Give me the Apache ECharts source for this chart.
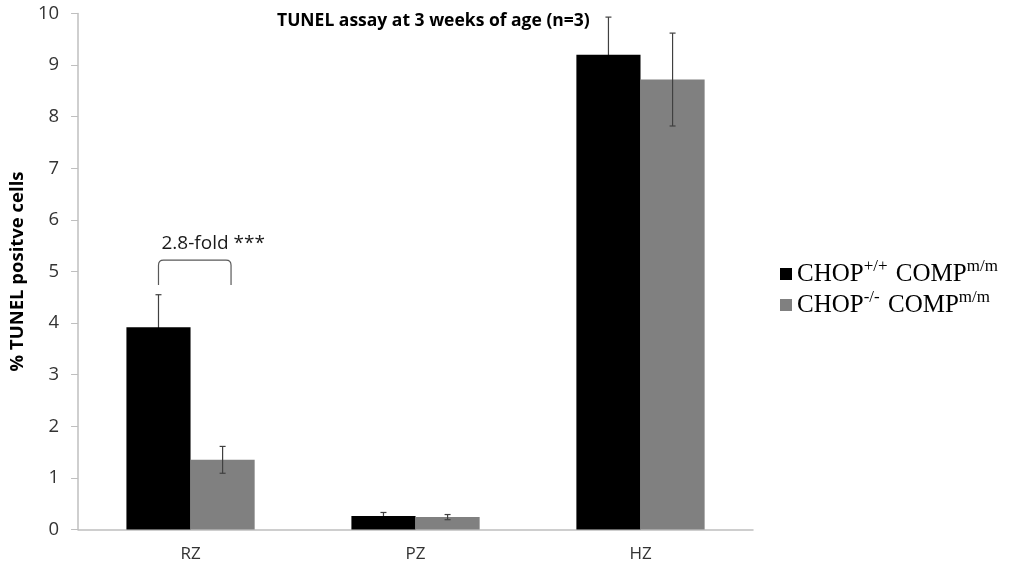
<!DOCTYPE html>
<html>
<head>
<meta charset="utf-8">
<script src="https://cdn.jsdelivr.net/npm/echarts@6/dist/echarts.min.js"></script>
<style>html,body{margin:0;padding:0;background:#fff;}#c{width:1013px;height:573px;}</style>
</head>
<body>
<div id="c"></div>
<script>
const categories = ['RZ', 'PZ', 'HZ'];
const wildValues = [3.92, 0.26, 9.2];
const wildErrors = [0.63, 0.07, 0.73];
const nullValues = [1.35, 0.24, 8.72];
const nullErrors = [0.26, 0.05, 0.9];
const seriesNames = ['CHOP+/+ COMPm/m', 'CHOP-/- COMPm/m'];
const yTicks = [0, 1, 2, 3, 4, 5, 6, 7, 8, 9, 10];
// bracket annotation: category index, top value, leg bottom value, label
const bracket = { cat: 0, top: 5.22, bottom: 4.74, textValue: 5.55, label: '2.8-fold ***' };

const chart = echarts.init(document.getElementById('c'));
const BAR_FRAC = 0.285;

function errSeries(values, errors, side, z) {
  return {
    type: 'custom',
    z: z,
    silent: true,
    data: values.map((v, i) => [i, v, errors[i]]),
    renderItem: function (params, api) {
      const idx = api.value(0), v = api.value(1), e = api.value(2);
      const band = api.size([1, 0])[0];
      const off = side * band * BAR_FRAC / 2;
      const hi = api.coord([idx, v + e]);
      const lo = api.coord([idx, v - e]);
      const x = hi[0] + off;
      const cap = 3;
      const st = { stroke: '#404040', lineWidth: 1.2 };
      return {
        type: 'group',
        children: [
          { type: 'line', shape: { x1: x, y1: hi[1], x2: x, y2: lo[1] }, style: st },
          { type: 'line', shape: { x1: x - cap, y1: hi[1], x2: x + cap, y2: hi[1] }, style: st },
          { type: 'line', shape: { x1: x - cap, y1: lo[1], x2: x + cap, y2: lo[1] }, style: st }
        ]
      };
    }
  };
}

const bracketSeries = {
  type: 'custom',
  z: 6,
  silent: true,
  data: [[bracket.cat, bracket.top, bracket.bottom, bracket.textValue]],
  renderItem: function (params, api) {
    const idx = api.value(0);
    const band = api.size([1, 0])[0];
    const t = api.coord([idx, api.value(1)]);
    const b = api.coord([idx, api.value(2)]);
    const tv = api.coord([idx, api.value(3)]);
    const xl = t[0] - band * BAR_FRAC / 2;
    const xr = t[0] + band * 0.18;
    const r = 5;
    const path = 'M' + xl + ' ' + b[1] + ' L' + xl + ' ' + (t[1] + r) +
      ' Q' + xl + ' ' + t[1] + ' ' + (xl + r) + ' ' + t[1] +
      ' L' + (xr - r) + ' ' + t[1] +
      ' Q' + xr + ' ' + t[1] + ' ' + xr + ' ' + (t[1] + r) +
      ' L' + xr + ' ' + b[1];
    return {
      type: 'group',
      children: [
        { type: 'path', shape: { pathData: path }, style: { stroke: '#595959', lineWidth: 1.2, fill: null } },
        { type: 'text', style: { text: bracket.label, x: xl + 3, y: tv[1], textVerticalAlign: 'middle', fill: '#1a1a1a', font: '19px "Open Sans", sans-serif' } }
      ]
    };
  }
};

const option = {
  animation: false,
  backgroundColor: '#fff',
  title: {
    text: 'TUNEL assay at 3 weeks of age (n=3)',
    left: 272, top: 7,
    textStyle: { fontFamily: 'Open Sans', fontWeight: 'bold', fontSize: 17.5, color: '#000' }
  },
  legend: {
    orient: 'vertical',
    left: 775, top: 253,
    itemWidth: 12, itemHeight: 12, itemGap: 2,
    icon: 'rect',
    data: seriesNames,
    formatter: function (name) {
      const m = name.match(/^CHOP(\S+) COMP(\S+)$/);
      return '{b|CHOP}{s|' + m[1] + '}{b| COMP}{s|' + m[2] + '}';
    },
    textStyle: {
      fontFamily: 'Liberation Serif',
      fontSize: 25,
      color: '#000',
      rich: {
        b: { fontFamily: 'Liberation Serif', fontSize: 25, color: '#000', lineHeight: 26, verticalAlign: 'bottom' },
        s: { fontFamily: 'Liberation Serif', fontSize: 17, color: '#000', lineHeight: 14, verticalAlign: 'bottom', padding: [0, 2, 12, 0] }
      }
    }
  },
  grid: { left: 78, right: 260, top: 13.5, bottom: 43.5 },
  xAxis: {
    type: 'category',
    data: categories,
    axisLine: { lineStyle: { color: '#bfbfbf', width: 1.5 } },
    axisTick: { show: false },
    axisLabel: { color: '#333', fontSize: 17, fontFamily: 'Open Sans', margin: 16 }
  },
  yAxis: {
    type: 'value',
    min: yTicks[0], max: yTicks[yTicks.length - 1], interval: 1,
    name: '% TUNEL positve cells',
    nameLocation: 'middle',
    nameGap: 48,
    nameTextStyle: { fontFamily: 'Open Sans', fontWeight: 'bold', fontSize: 18.5, color: '#000' },
    axisLine: { show: true, lineStyle: { color: '#bfbfbf', width: 1.5 } },
    axisTick: { show: true, length: 7, lineStyle: { color: '#bfbfbf' } },
    splitLine: { show: false },
    axisLabel: { color: '#333', fontSize: 18.5, fontFamily: 'Open Sans', margin: 19 }
  },
  series: [
    { name: seriesNames[0], type: 'bar', z: 2, data: wildValues, barWidth: (BAR_FRAC * 100) + '%', barGap: '0%', itemStyle: { color: '#000' } },
    { name: seriesNames[1], type: 'bar', z: 2, data: nullValues, barWidth: (BAR_FRAC * 100) + '%', barGap: '0%', itemStyle: { color: '#808080' } },
    errSeries(wildValues, wildErrors, -1, 1),
    errSeries(nullValues, nullErrors, 1, 5),
    bracketSeries
  ]
};
chart.setOption(option);
</script>
</body>
</html>
